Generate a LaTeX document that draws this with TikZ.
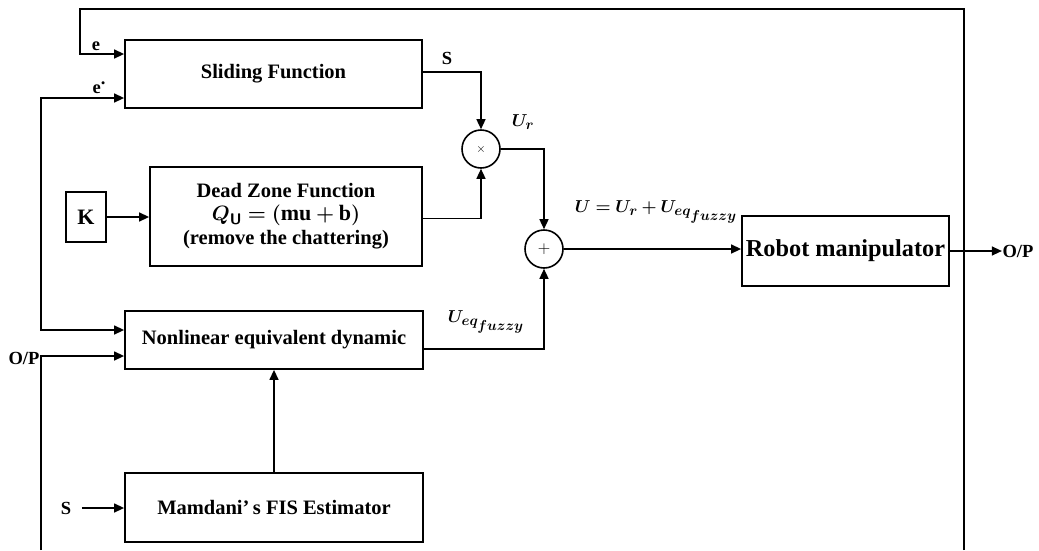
\documentclass[tikz,border=0pt]{standalone}
\usepackage{amsmath}
\usepackage{fontspec}
\setmainfont{Liberation Serif}
\usepackage{bm}
\usetikzlibrary{arrows.meta}
\begin{document}
\begin{tikzpicture}[x=1pt,y=-1pt,line width=1.4pt,
  box/.style={draw,line width=1.8pt,inner sep=0pt,align=center,font=\fontsize{20.5}{25}\selectfont\bfseries},
  arr/.style={-{Triangle[length=10pt,width=9pt]}},
  lbl/.style={inner sep=0pt,font=\fontsize{18.5}{20}\selectfont\bfseries},
  mlbl/.style={inner sep=0pt,font=\fontsize{19}{22}\selectfont},
  sumc/.style={draw,circle,line width=1.6pt,minimum size=38pt,inner sep=0pt}]
\useasboundingbox (0,0) rectangle (1039,550);
% blocks
\node[box,minimum width=297pt,minimum height=68pt] (sf) at (273.5,74) {Sliding Function};
\node[box,minimum width=272pt,minimum height=99pt] (dz) at (286,216.5)
  {Dead Zone Function\\[-2pt]{\fontsize{22}{25}\selectfont$\bm{Q}_{\textsf{\textbf{U}}}\bm{=}\bm{(}\textbf{mu}\bm{+}\textbf{b}\bm{)}$}\\[-1pt](remove the chattering)};
\node[box,minimum width=40pt,minimum height=50pt,font=\fontsize{22}{25}\selectfont\bfseries] (K) at (86,217) {K};
\node[box,minimum width=298pt,minimum height=58pt] (nl) at (274,340) {Nonlinear equivalent dynamic};
\node[box,minimum width=298pt,minimum height=69pt] (md) at (274,507.5) {Mamdani\textquoteright\,s FIS Estimator};
\node[box,minimum width=207pt,minimum height=70pt,font=\fontsize{24.3}{28}\selectfont\bfseries] (robot) at (845.5,251) {Robot manipulator};
\node[sumc] (mult) at (481,149) {\fontsize{12}{12}\selectfont$\times$};
\node[sumc] (plus) at (544,249) {\fontsize{16}{16}\selectfont$+$};
% labels
\node[lbl] (le) at (96,46) {e};
\node[lbl] (led) at (99,88) {e\raisebox{0.5em}{.}};
\node[lbl] (lS) at (447,58) {S};
\node[mlbl] (lur) at (523,122) {$\bm{U}_{\bm{r}}$};
\node[mlbl] (lu) at (656,212) {$\bm{U}\bm{=}\bm{U}_{\bm{r}}\bm{+}\bm{U}_{\bm{eq}_{\scriptstyle\bm{fuzzy}}}$};
\node[mlbl] (lueq) at (486,322) {$\bm{U}_{\bm{eq}_{\scriptstyle\bm{fuzzy}}}$};
\node[lbl] (opL) at (24,358) {O/P};
\node[lbl] (S2) at (66,508) {S};
\node[lbl] (opR) at (1018,251) {O/P};
% connectors
\coordinate (fbR) at (964,550);
\coordinate (fbL) at (80,9);
\draw[arr] (fbR) |- (fbL) |- ([yshift=20pt]sf.west);
\coordinate (edc) at (41,200);
\draw[arr] (edc) |- ([yshift=-24pt]sf.west);
\draw[arr] (edc) |- ([yshift=10pt]nl.west);
\coordinate (opB) at (41,550);
\draw[arr] (opB) |- ([yshift=-16pt]nl.west);
\draw[arr] ([yshift=2pt]sf.east) -| (mult.north);
\draw[arr] ([yshift=-2pt]dz.east) -| (mult.south);
\draw[arr] (K.east) -- (K.east -| dz.west);
\draw[arr] (mult.east) -| (plus.north);
\draw[arr] (plus.east) -- (plus.east -| robot.west);
\draw[arr] ([yshift=-9pt]nl.east) -| (plus.south);
\draw[arr] (md.north) -- (md.north |- nl.south);
\draw[arr] ([xshift=10pt]S2.east) -- (S2.east -| md.west);
\draw[arr] (robot.east) -- (opR.west);
\end{tikzpicture}
\end{document}
